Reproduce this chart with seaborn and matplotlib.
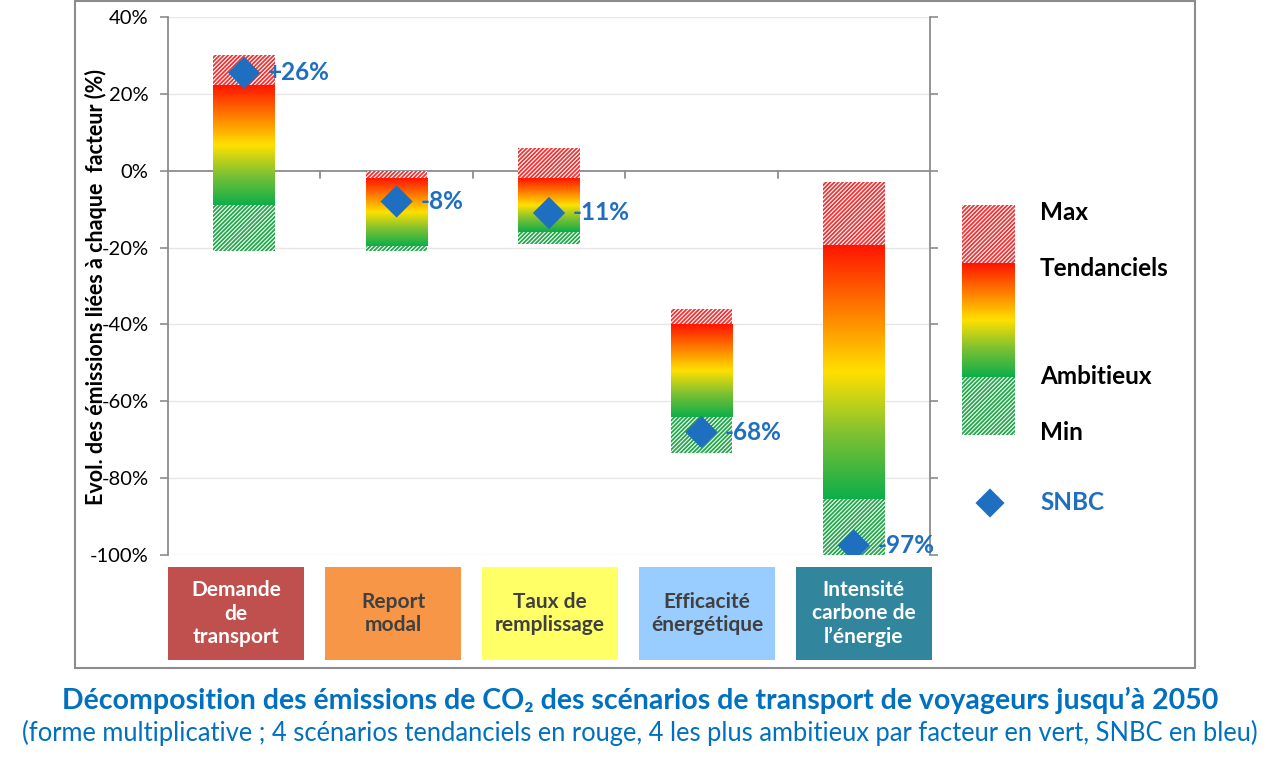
import numpy as np
import matplotlib
matplotlib.use("Agg")
import matplotlib.pyplot as plt
from matplotlib.colors import LinearSegmentedColormap
from matplotlib.patches import Rectangle
import pandas as pd
import seaborn as sns

# ---------------- data ----------------
categories = ["Demande\nde\ntransport", "Report\nmodal", "Taux de\nremplissage",
              "Efficacité\nénergétique", "Intensité\ncarbone de\nl’énergie"]
max_vals = [30, 0, 6, -36, -3]          # top of red hatched part
tend_vals = [22, -2, -2, -40, -19.5]     # top of gradient (tendanciels)
amb_vals = [-9, -19.5, -16, -64, -85.5]  # bottom of gradient (ambitieux)
min_vals = [-21, -21, -19, -73.5, -100]  # bottom of green hatched part
snbc_vals = [25.5, -8, -11, -68, -97.5]
snbc_labels = ["+26%", "-8%", "-11%", "-68%", "-97%"]
yticks = [40, 20, 0, -20, -40, -60, -80, -100]
legend_labels = ["Max", "Tendanciels", "Ambitieux", "Min"]
box_colors = ["#C0504D", "#F79646", "#FFFF66", "#99CCFF", "#31859C"]
box_text_colors = ["white", "#404040", "#404040", "#404040", "white"]

title = "Décomposition des émissions de CO₂ des scénarios de transport de voyageurs jusqu’à 2050"
subtitle = "(forme multiplicative ; 4 scénarios tendanciels en rouge, 4 les plus ambitieux par facteur en vert, SNBC en bleu)"
ylabel = "Evol. des émissions liées à chaque  facteur (%)"

# ---------------- style ----------------
sns.set_theme(style="white")
plt.rcParams["font.family"] = ["Lato", "DejaVu Sans"]
plt.rcParams["hatch.linewidth"] = 1.3

RED_H = "#EE3535"
GREEN_H = "#22A84A"
BLUE = "#1F6FC0"
AXC = "#8C8C8C"
HATCH = "////////"
grad_cmap = LinearSegmentedColormap.from_list(
    "grad", [(0.0, "#FF1500"), (0.25, "#FF7A00"), (0.5, "#FFE000"),
             (0.75, "#7CC133"), (1.0, "#0DAE4A")])
grad_img = np.linspace(0, 1, 256)[:, None]

W, H = 1280, 767
fig = plt.figure(figsize=(W / 100, H / 100), dpi=100)
fig.patch.set_facecolor("white")

def fx(px):
    return px / W

def fy(py):
    return 1 - py / H

# outer frame
fig.add_artist(Rectangle((fx(75), fy(668)), fx(1195) - fx(75), fy(1) - fy(668),
                         transform=fig.transFigure, fill=False,
                         edgecolor=AXC, lw=1.5))

ax = fig.add_axes([fx(168), fy(555), fx(930) - fx(168), fy(17) - fy(555)])
n = len(categories)
x = np.arange(n)
bw = 0.405

df = pd.DataFrame({"x": x, "snbc": snbc_vals})

# gridlines
for v in yticks:
    if v != 0:
        ax.axhline(v, color="#E6E6E6", lw=1.0, zorder=0)
ax.axhline(0, color=AXC, lw=1.3, zorder=1)

# category separator ticks on the zero line
for b in np.arange(1, n) - 0.5:
    ax.plot([b, b], [0, -1.8], color=AXC, lw=1.3, zorder=1)

# hatched parts + gradient
for i in range(n):
    ax.bar(x[i], max_vals[i] - tend_vals[i], bottom=tend_vals[i], width=bw,
           color="white", edgecolor=RED_H, hatch=HATCH, lw=0, zorder=2)
    ax.bar(x[i], amb_vals[i] - min_vals[i], bottom=min_vals[i], width=bw,
           color="white", edgecolor=GREEN_H, hatch=HATCH, lw=0, zorder=2)
    ax.imshow(grad_img, cmap=grad_cmap, aspect="auto", zorder=3,
              extent=(x[i] - bw / 2, x[i] + bw / 2, amb_vals[i], tend_vals[i]),
              interpolation="bilinear")

sns.scatterplot(data=df, x="x", y="snbc", marker="D", s=270, color=BLUE,
                edgecolor="none", zorder=5, ax=ax, legend=False)
for i in range(n):
    ax.annotate(snbc_labels[i], (x[i], snbc_vals[i]), xytext=(17, 0),
                textcoords="offset points", ha="left", va="center",
                color=BLUE, fontsize=17.5, fontweight="bold", zorder=6)

ax.set_xlim(-0.5, n - 0.5)
ax.set_ylim(-100, 40)
ax.set_yticks(yticks)
ax.set_yticklabels([f"{v}%" for v in yticks])
ax.set_xticks([])
ax.set_xlabel("")
ax.set_ylabel("")
ax.tick_params(axis="y", which="both", left=True, right=True, labelleft=True,
               labelright=False, direction="out", length=6, width=1.2,
               color=AXC, pad=8, labelsize=14.5, labelcolor="black")
for s in ["top", "bottom"]:
    ax.spines[s].set_visible(False)
for s in ["left", "right"]:
    ax.spines[s].set_visible(True)
    ax.spines[s].set_color(AXC)
    ax.spines[s].set_linewidth(1.3)
ax.set_facecolor("none")

fig.text(fx(96), fy(287), ylabel, rotation=90, ha="center", va="center",
         fontsize=15.5, fontweight="bold", color="black")

# category boxes
axb = fig.add_axes([fx(168), fy(660), fx(932) - fx(168), fy(567) - fy(660)])
axb.set_xlim(-0.5, n - 0.5)
axb.set_ylim(0, 1)
axb.axis("off")
box_w = 0.892
gap = (n - n * box_w) / (n - 1)
for i in range(n):
    left = -0.5 + i * (box_w + gap)
    axb.add_patch(Rectangle((left, 0), box_w, 1, facecolor=box_colors[i],
                            edgecolor="none"))
    axb.text(left + box_w / 2, 0.5, categories[i], ha="center", va="center",
             fontsize=15, fontweight="bold", color=box_text_colors[i],
             linespacing=1.2)

# legend
axl = fig.add_axes([fx(940), fy(530), fx(1190) - fx(940), fy(190) - fy(530)])
lx0, lx1 = 962, 1015
l_max, l_tend, l_amb, l_min = 205, 263, 377, 435
axl.add_patch(Rectangle((lx0, l_max), lx1 - lx0, l_tend - l_max, facecolor="white",
                        edgecolor=RED_H, hatch=HATCH, lw=0))
axl.add_patch(Rectangle((lx0, l_amb), lx1 - lx0, l_min - l_amb, facecolor="white",
                        edgecolor=GREEN_H, hatch=HATCH, lw=0))
axl.imshow(grad_img, cmap=grad_cmap, aspect="auto",
           extent=(lx0, lx1, l_amb, l_tend), interpolation="bilinear")
axl.set_xlim(940, 1190)
axl.set_ylim(530, 190)
axl.axis("off")
for lab, yy in zip(legend_labels, [212, 268, 377, 433]):
    axl.text(1040, yy, lab, ha="left", va="center", fontsize=17.5,
             fontweight="bold", color="black")
axl.scatter([990], [503], marker="D", s=220, color=BLUE, edgecolor="none")
axl.text(1040, 503, "SNBC", ha="left", va="center", fontsize=17.5,
         fontweight="bold", color=BLUE)

# titles
fig.text(0.5, fy(700), title, ha="center", va="center", fontsize=20.5,
         fontweight="bold", color="#0070C0")
fig.text(0.5, fy(733), subtitle, ha="center", va="center", fontsize=18.4,
         color="#0070C0")

fig.savefig("out.png", dpi=100, facecolor="white")
